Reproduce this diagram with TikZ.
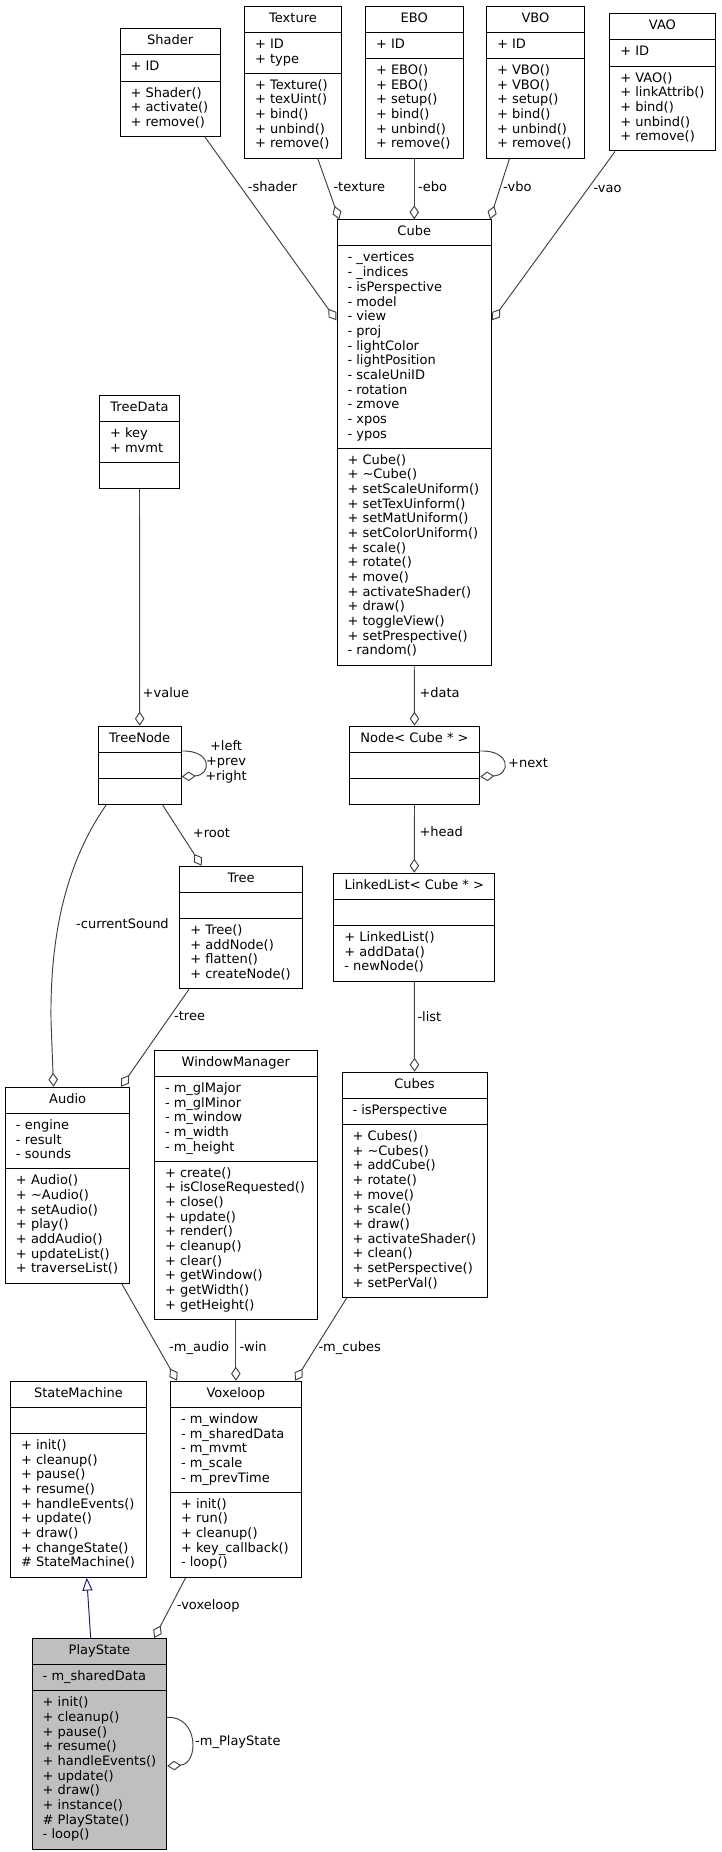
\documentclass[tikz,border=0pt]{standalone}
\usepackage{fontspec}
\setmainfont{DejaVu Sans}
\usetikzlibrary{shapes.multipart,arrows.meta}
\definecolor{edgegray}{HTML}{404040}
\definecolor{inhblue}{HTML}{191970}
\definecolor{rootgray}{HTML}{BFBFBF}
\newcommand{\br}{\\\strut}

\begin{document}
\begin{tikzpicture}[x=1pt, y=-1pt,
  cls/.style={rectangle split, rectangle split parts=3, draw=black, fill=white, line width=1pt,
    anchor=north west, align=left, rectangle split part align={center,left,left},
    inner xsep=10.5pt, inner ysep=5.25pt, font=\fontsize{13}{14.67}\selectfont},
  agg/.style={draw=edgegray, line width=.95pt, -{Diamond[open, length=14pt, width=9.5pt]}},
  inh/.style={draw=inhblue, line width=.95pt, -{Triangle[open, length=13pt, width=10pt]}},
  lbl/.style={anchor=west, inner sep=0pt, text height=9pt, text depth=0pt, font=\fontsize{13}{14.67}\selectfont}]
\useasboundingbox (0,0) rectangle (721,1852);

\node[cls, minimum width=100.5pt] (shader) at (119.5,28.3) {\strut Shader \nodepart{two}\strut + ID
  \nodepart{three}\strut + Shader()\br + activate()\br + remove()};
\node[cls, minimum width=97pt] (texture) at (244,5.7) {\strut Texture \nodepart{two}\strut + ID\br + type
  \nodepart{three}\strut + Texture()\br + texUint()\br + bind()\br + unbind()\br + remove()};
\node[cls, minimum width=97.5pt] (ebo) at (365,5.7) {\strut EBO \nodepart{two}\strut + ID
  \nodepart{three}\strut + EBO()\br + EBO()\br + setup()\br + bind()\br + unbind()\br + remove()};
\node[cls, minimum width=98pt] (vbo) at (486,5.7) {\strut VBO \nodepart{two}\strut + ID
  \nodepart{three}\strut + VBO()\br + VBO()\br + setup()\br + bind()\br + unbind()\br + remove()};
\node[cls, minimum width=105pt] (vao) at (609.3,13.3) {\strut VAO \nodepart{two}\strut + ID
  \nodepart{three}\strut + VAO()\br + linkAttrib()\br + bind()\br + unbind()\br + remove()};
\node[cls, minimum width=154.5pt] (cube) at (336.5,219.3) {\strut Cube
  \nodepart{two}\strut - \_vertices\br - \_indices\br - isPerspective\br - model\br - view\br - proj\br
  - lightColor\br - lightPosition\br - scaleUniID\br - rotation\br - zmove\br - xpos\br - ypos
  \nodepart{three}\strut + Cube()\br + \textasciitilde Cube()\br + setScaleUniform()\br + setTexUinform()\br
  + setMatUniform()\br + setColorUniform()\br + scale()\br + rotate()\br + move()\br + activateShader()\br
  + draw()\br + toggleView()\br + setPrespective()\br - random()};
\node[cls, minimum width=80pt] (treedata) at (99,395) {\strut TreeData \nodepart{two}\strut + key\br + mvmt
  \nodepart{three}\strut};
\node[cls, minimum width=83pt] (treenode) at (97.7,725.7) {\strut TreeNode \nodepart{two}\strut \nodepart{three}\strut};
\node[cls, minimum width=130.6pt] (cubenode) at (348.7,725.7) {\strut Node< Cube * > \nodepart{two}\strut
  \nodepart{three}\strut};
\node[cls, minimum width=122.7pt] (tree) at (179.3,865.7) {\strut Tree \nodepart{two}\strut
  \nodepart{three}\strut + Tree()\br + addNode()\br + flatten()\br + createNode()};
\node[cls, minimum width=161pt] (linkedlist) at (333.3,872.7) {\strut LinkedList< Cube * > \nodepart{two}\strut
  \nodepart{three}\strut + LinkedList()\br + addData()\br - newNode()};
\node[cls, minimum width=124.3pt] (audio) at (5,1086.7) {\strut Audio
  \nodepart{two}\strut - engine\br - result\br - sounds
  \nodepart{three}\strut + Audio()\br + \textasciitilde Audio()\br + setAudio()\br + play()\br + addAudio()\br
  + updateList()\br + traverseList()};
\node[cls, minimum width=162.7pt] (winmgr) at (154,1049.7) {\strut WindowManager
  \nodepart{two}\strut - m\_glMajor\br - m\_glMinor\br - m\_window\br - m\_width\br - m\_height
  \nodepart{three}\strut + create()\br + isCloseRequested()\br + close()\br + update()\br + render()\br
  + cleanup()\br + clear()\br + getWindow()\br + getWidth()\br + getHeight()};
\node[cls, minimum width=145pt] (cubes) at (341.5,1071.7) {\strut Cubes \nodepart{two}\strut - isPerspective
  \nodepart{three}\strut + Cubes()\br + \textasciitilde Cubes()\br + addCube()\br + rotate()\br + move()\br
  + scale()\br + draw()\br + activateShader()\br + clean()\br + setPerspective()\br + setPerVal()};
\node[cls, minimum width=136pt] (statemachine) at (10,1380.7) {\strut StateMachine \nodepart{two}\strut
  \nodepart{three}\strut + init()\br + cleanup()\br + pause()\br + resume()\br + handleEvents()\br
  + update()\br + draw()\br + changeState()\br \# StateMachine()};
\node[cls, minimum width=130.7pt] (voxeloop) at (170,1380.7) {\strut Voxeloop
  \nodepart{two}\strut - m\_window\br - m\_sharedData\br - m\_mvmt\br - m\_scale\br - m\_prevTime
  \nodepart{three}\strut + init()\br + run()\br + cleanup()\br + key\_callback()\br - loop()};
\node[cls, minimum width=134.3pt, fill=rootgray] (playstate) at (31.7,1638) {\strut PlayState
  \nodepart{two}\strut - m\_sharedData
  \nodepart{three}\strut + init()\br + cleanup()\br + pause()\br + resume()\br + handleEvents()\br
  + update()\br + draw()\br + instance()\br \# PlayState()\br - loop()};

\draw[agg] ([xshift=85.5pt]shader.south west) -- ([yshift=-101pt]cube.north west);
\draw[agg] ([xshift=73.7pt]texture.south west) -- ([xshift=2.8pt]cube.north west);
\draw[agg] (ebo.south) -- (cube.north);
\draw[agg] ([xshift=23.5pt]vbo.south west) -- ([xshift=-2pt]cube.north east);
\draw[agg] ([xshift=5.7pt]vao.south west) -- ([yshift=-101pt]cube.north east);
\draw[agg] (cube.south) -- (cubenode.north);
\draw[agg] ([yshift=-25.3pt]cubenode.north east) .. controls (511,750) and (511,775) .. ([yshift=-51pt]cubenode.north east);
\draw[agg] (treedata.south) -- (treenode.north);
\draw[agg] ([yshift=-25.3pt]treenode.north east) .. controls (212,750) and (212,775) .. ([yshift=-51pt]treenode.north east);
\draw[agg] ([xshift=65pt]treenode.south west) -- ([xshift=22.4pt]tree.north west);
\draw[agg] ([xshift=8.3pt]treenode.south west) .. controls (68,860) and (50,930) .. (51,1020) -- ([xshift=48.5pt]audio.north west);
\draw[agg] ([xshift=9.7pt]tree.south west) -- ([xshift=116pt]audio.north west);
\draw[agg] (cubenode.south) -- (linkedlist.north);
\draw[agg] (linkedlist.south) -- (cubes.north);
\draw[agg] ([xshift=116.7pt]audio.south west) -- ([xshift=7pt]voxeloop.north west);
\draw[agg] (winmgr.south) -- (voxeloop.north);
\draw[agg] ([xshift=5.2pt]cubes.south west) -- ([xshift=-6.7pt]voxeloop.north east);
\draw[inh] ([xshift=59pt]playstate.north west) -- ([xshift=76.7pt]statemachine.south west);
\draw[agg] ([xshift=15.7pt]voxeloop.south west) -- ([xshift=-13pt]playstate.north east);
\draw[agg] ([yshift=-79.3pt]playstate.north east) .. controls (199,1716) and (199,1764) .. ([yshift=-128pt]playstate.north east);

\node[lbl] (lshader) at (247.7,186.7) {-shader};
\node[lbl] (ltexture) at (333.3,186.7) {-texture};
\node[lbl] (lebo) at (418,186.7) {-ebo};
\node[lbl] (lvbo) at (503,186.7) {-vbo};
\node[lbl] (lvao) at (593.3,188) {-vao};
\node[lbl] (ldata) at (419.3,692.7) {+data};
\node[lbl] (lnext) at (508,762.7) {+next};
\node[lbl] (lvalue) at (142.5,692.7) {+value};
\node[align=center, inner sep=0pt, font=\fontsize{13}{14.67}\selectfont] (lchildren) at (226,762.7) {\strut+left\br+prev\br+right};
\node[lbl] (lroot) at (192.7,832.7) {+root};
\node[lbl] (lhead) at (419.3,832.3) {+head};
\node[lbl] (lsound) at (76,924.3) {-currentSound};
\node[lbl] (ltree) at (174,1016) {-tree};
\node[lbl] (llist) at (417.3,1016.7) {-list};
\node[lbl] (laudio) at (169,1347.3) {-m\_audio};
\node[lbl] (lwin) at (239.3,1347.3) {-win};
\node[lbl] (lcubes) at (318.3,1347.3) {-m\_cubes};
\node[lbl] (lvoxeloop) at (176.7,1605) {-voxeloop};
\node[lbl] (lplaystate) at (195,1740.7) {-m\_PlayState};
\end{tikzpicture}
\end{document}
